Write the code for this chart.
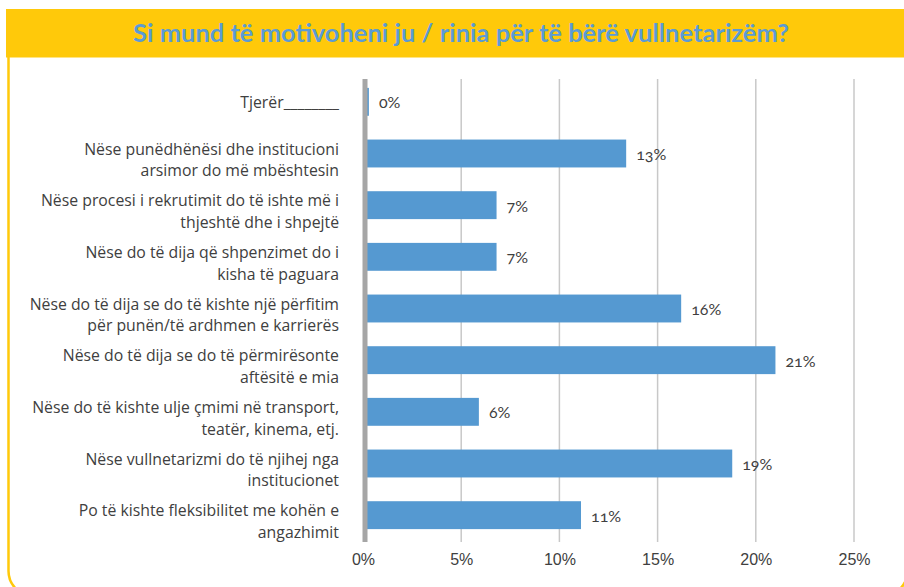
<!DOCTYPE html>
<html>
<head>
<meta charset="utf-8">
<script src="https://cdn.jsdelivr.net/npm/d3@7"></script>
<style>
  body { margin: 0; background: #fff; }
  svg { display: block; font-family: Lato, 'Open Sans', sans-serif; }
</style>
</head>
<body>
<div class="vis"></div>
<script>
// categories, top to bottom (each label split into its display lines)
const categories = [
  ['Tjerër________'],
  ['Nëse punëdhënësi dhe institucioni', 'arsimor do më mbështesin'],
  ['Nëse procesi i rekrutimit do të ishte më i', 'thjeshtë dhe i shpejtë'],
  ['Nëse do të dija që shpenzimet do i', 'kisha të paguara'],
  ['Nëse do të dija se do të kishte një përfitim', 'për punën/të ardhmen e karrierës'],
  ['Nëse do të dija se do të përmirësonte', 'aftësitë e mia'],
  ['Nëse do të kishte ulje çmimi në transport,', 'teatër, kinema, etj.'],
  ['Nëse vullnetarizmi do të njihej nga', 'institucionet'],
  ['Po të kishte fleksibilitet me kohën e', 'angazhimit']
]
// percentages, same order
const values = [0.3, 13.4, 6.8, 6.8, 16.2, 21.0, 5.9, 18.8, 11.1]
const xTicks = [0, 5, 10, 15, 20, 25]
const title = 'Si mund të motivoheni ju / rinia për të bërë vullnetarizëm?'

const width = 904
const height = 587
const plot = { left: 363, right: 854, top: 76, bottom: 541 }

const yellow = '#ffc90a'
const blue = '#5599d1'

const svg = d3
  .select('.vis')
  .append('svg')
  .attr('width', width)
  .attr('height', height)

// frame: open-topped outline with rounded bottom corners, then the title band
const fx0 = 8.5
const fx1 = 907.5
const fy0 = 55
const fy1 = 596
const r = 25
const frame = d3.path()
frame.moveTo(fx0, fy0)
frame.lineTo(fx0, fy1 - r)
frame.arcTo(fx0, fy1, fx0 + r, fy1, r)
frame.lineTo(fx1 - r, fy1)
frame.arcTo(fx1, fy1, fx1, fy1 - r, r)
frame.lineTo(fx1, fy0)

svg
  .append('path')
  .attr('d', frame.toString())
  .attr('fill', 'none')
  .attr('stroke', yellow)
  .attr('stroke-width', 2.5)

svg
  .append('rect')
  .attr('x', 6)
  .attr('y', 9)
  .attr('width', width - 6)
  .attr('height', 48.5)
  .attr('fill', yellow)

svg
  .append('text')
  .attr('x', 461)
  .attr('y', 32)
  .attr('text-anchor', 'middle')
  .attr('dominant-baseline', 'central')
  .attr('fill', '#5b9bd5')
  .attr('font-size', 25.5)
  .attr('font-weight', 'bold')
  .text(title)

// scales
const x = d3
  .scaleLinear()
  .domain([0, 25])
  .range([plot.left, plot.right])

const y = d3
  .scaleBand()
  .domain(d3.range(categories.length))
  .range([plot.top, plot.bottom])
  .paddingInner(0.46)
  .paddingOuter(0.23)

// vertical gridlines
svg
  .append('g')
  .attr('class', 'grid')
  .selectAll('line')
  .data(xTicks.slice(1))
  .join('line')
  .attr('x1', d => x(d))
  .attr('x2', d => x(d))
  .attr('y1', plot.top + 3)
  .attr('y2', plot.bottom + 1)
  .attr('stroke', '#c8c8c8')
  .attr('stroke-width', 1.5)

// bars
svg
  .append('g')
  .selectAll('rect')
  .data(values)
  .join('rect')
  .attr('x', x(0))
  .attr('y', (d, i) => y(i))
  .attr('width', d => x(d) - x(0))
  .attr('height', y.bandwidth())
  .attr('fill', blue)

// value labels
svg
  .append('g')
  .selectAll('text')
  .data(values)
  .join('text')
  .attr('x', d => x(d) + 10)
  .attr('y', (d, i) => y(i) + y.bandwidth() / 2)
  .attr('dominant-baseline', 'central')
  .attr('fill', '#404040')
  .attr('font-size', 16)
  .style('font-variant-numeric', 'oldstyle-nums')
  .text(d => `${Math.round(d)}%`)

// x axis
const xAxis = d3
  .axisBottom(x)
  .tickValues(xTicks)
  .tickSize(0)
  .tickPadding(13)
  .tickFormat(d => `${d}%`)

svg
  .append('g')
  .attr('class', 'x axis')
  .attr('transform', `translate(0,${plot.bottom})`)
  .call(xAxis)
  .call(g => g.select('.domain').remove())
  .call(g =>
    g
      .selectAll('.tick text')
      .attr('fill', '#404040')
      .attr('font-size', 16)
      .attr('font-family', null)
      .style('font-variant-numeric', 'oldstyle-nums')
  )

// category axis: thick grey line + wrapped labels
svg
  .append('line')
  .attr('x1', x(0) + 2)
  .attr('x2', x(0) + 2)
  .attr('y1', plot.top + 3)
  .attr('y2', plot.bottom + 1)
  .attr('stroke', '#a6a6a6')
  .attr('stroke-width', 5)

const lineHeight = 21.6
const labels = svg
  .append('g')
  .selectAll('text')
  .data(categories)
  .join('text')
  .attr('text-anchor', 'end')
  .attr('fill', '#404040')
  .attr('font-family', "'Open Sans', sans-serif")
  .attr('font-size', 15.8)
  .attr('transform', (d, i) => {
    const shift = d.length > 1 ? 6 : 0
    return `translate(339,${y(i) + y.bandwidth() / 2 + shift})`
  })

labels
  .selectAll('tspan')
  .data(d => d.map((t, k) => ({ t, k, n: d.length })))
  .join('tspan')
  .attr('x', 0)
  .attr('y', d => (d.k - (d.n - 1) / 2) * lineHeight)
  .attr('dominant-baseline', 'central')
  .text(d => d.t)
</script>
</body>
</html>
